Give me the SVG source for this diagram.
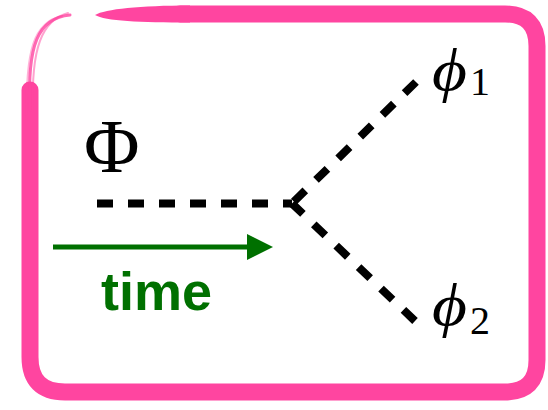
<svg xmlns="http://www.w3.org/2000/svg" width="548" height="410" viewBox="0 0 548 410">
<style>
.pink{stroke:#ff45a0;fill:none;stroke-linecap:round}
.dash{stroke:#000;stroke-width:8;fill:none;stroke-dasharray:16 15}
.math{font-family:"Liberation Serif","DejaVu Serif",serif;fill:#000}
.lbl{font-family:"Liberation Sans",Arial,sans-serif;font-weight:bold;fill:#007000}
</style>
<rect width="548" height="410" fill="#fff"/>
<g id="frame">
<path class="pink" stroke-width="17" stroke-linecap="butt" d="M180,14 L505,14 Q537,14 537,46 L537,360 Q537,392 505,392 L65,392 Q30,392 30,357 L30,90"/>
<path d="M95,15 C105,9 140,5.5 190,5.5 L190,22.5 C140,22.5 105,21 95,15 Z" fill="#ff45a0"/>
<path class="pink" stroke-width="3" opacity="0.8" d="M30,110 C27,45 38,18 70,15"/>
<path class="pink" stroke-width="2" opacity="0.5" d="M33,110 C31,48 42,20 68,13"/>
<path class="pink" stroke-width="2" opacity="0.4" d="M27,120 C25,50 34,22 62,16"/>
</g>
<g id="connectors">
<path class="dash" d="M97,203.5 L292,203.5"/>
<path class="dash" d="M416,82 L292,203.5"/>
<path class="dash" d="M415,321 L292,203.5"/>
</g>
<g id="Phi">
<text class="math" x="84" y="172" font-size="76">Φ</text>
</g>
<g id="phi1">
<text class="math" x="432" y="90" font-size="60" font-style="italic" textLength="35" lengthAdjust="spacingAndGlyphs">ϕ</text>
<text class="math" x="470" y="95" font-size="40">1</text>
</g>
<g id="phi2">
<text class="math" x="432" y="325" font-size="60" font-style="italic" textLength="35" lengthAdjust="spacingAndGlyphs">ϕ</text>
<text class="math" x="470" y="334" font-size="40">2</text>
</g>
<g id="time">
<path d="M53,247 L252,247" stroke="#007000" stroke-width="5"/>
<polygon points="247,234 273,247 247,260" fill="#007000"/>
<text class="lbl" x="101" y="310" font-size="54">time</text>
</g>
</svg>
